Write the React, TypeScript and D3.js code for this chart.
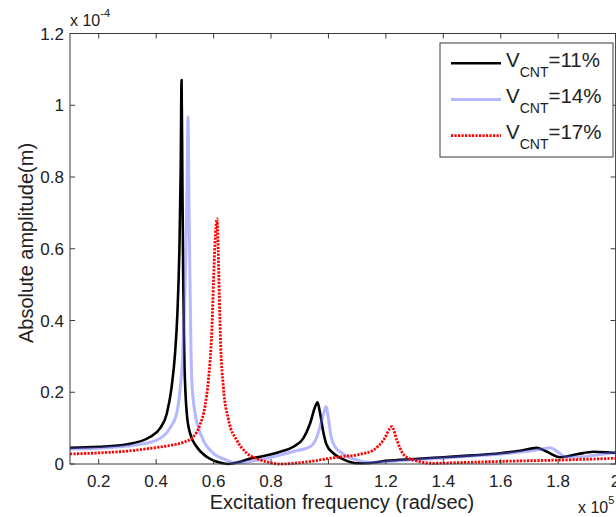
import React from "react";
import * as d3 from "d3";

// Frequency (x 1e5 rad/sec) and absolute amplitude (x 1e-4 m) for each CNT volume fraction
const freq11 = [0.1, 0.2, 0.3, 0.38, 0.414, 0.437, 0.454, 0.466, 0.474, 0.481, 0.4855, 0.4885, 0.4915, 0.4945, 0.498, 0.5066, 0.518, 0.541, 0.576, 0.62, 0.65, 0.692, 0.727, 0.762, 0.832, 0.878, 0.913, 0.936, 0.954, 0.962, 0.971, 0.983, 0.994, 1.017, 1.052, 1.099, 1.145, 1.203, 1.3, 1.4, 1.5, 1.598, 1.668, 1.726, 1.761, 1.807, 1.865, 1.923, 1.98, 2.0];
const amp11 = [0.045, 0.048, 0.055, 0.076, 0.1, 0.14, 0.215, 0.31, 0.42, 0.6, 0.82, 1.07, 0.78, 0.5, 0.3, 0.142, 0.086, 0.048, 0.02, 0.004, 0.0, 0.006, 0.015, 0.02, 0.034, 0.048, 0.072, 0.113, 0.16, 0.172, 0.141, 0.086, 0.053, 0.03, 0.013, 0.002, 0.003, 0.009, 0.014, 0.019, 0.024, 0.03, 0.037, 0.045, 0.034, 0.019, 0.027, 0.034, 0.032, 0.031];

const freq14 = [0.1, 0.2, 0.3, 0.4, 0.448, 0.472, 0.483, 0.4925, 0.498, 0.504, 0.508, 0.511, 0.514, 0.518, 0.524, 0.5355, 0.559, 0.599, 0.646, 0.672, 0.72, 0.762, 0.832, 0.878, 0.936, 0.96, 0.977, 0.985, 0.992, 1.0, 1.008, 1.023, 1.052, 1.099, 1.145, 1.2, 1.3, 1.4, 1.5, 1.6, 1.7, 1.745, 1.772, 1.8, 1.825, 1.87, 1.92, 1.98, 2.0];
const amp14 = [0.042, 0.044, 0.05, 0.066, 0.1, 0.142, 0.206, 0.3, 0.42, 0.605, 0.8, 0.967, 0.75, 0.5, 0.234, 0.142, 0.076, 0.03, 0.011, 0.003, 0.006, 0.012, 0.025, 0.035, 0.048, 0.076, 0.123, 0.146, 0.16, 0.127, 0.081, 0.048, 0.028, 0.011, 0.004, 0.006, 0.012, 0.017, 0.022, 0.028, 0.036, 0.042, 0.045, 0.033, 0.02, 0.019, 0.024, 0.03, 0.032];

const freq17 = [0.1, 0.2, 0.3, 0.4, 0.45, 0.5, 0.53, 0.553, 0.57, 0.582, 0.594, 0.602, 0.608, 0.612, 0.616, 0.62, 0.625, 0.634, 0.652, 0.681, 0.716, 0.75, 0.785, 0.832, 0.925, 1.0, 1.04, 1.11, 1.157, 1.192, 1.221, 1.238, 1.261, 1.296, 1.366, 1.459, 1.633, 1.807, 2.0];
const amp17 = [0.028, 0.031, 0.036, 0.046, 0.052, 0.062, 0.076, 0.11, 0.16, 0.234, 0.373, 0.56, 0.66, 0.683, 0.6, 0.466, 0.327, 0.215, 0.123, 0.066, 0.03, 0.015, 0.006, 0.0, 0.006, 0.015, 0.02, 0.027, 0.039, 0.067, 0.104, 0.067, 0.027, 0.011, 0.002, 0.004, 0.008, 0.011, 0.016];

const xTicks = [0.2, 0.4, 0.6, 0.8, 1, 1.2, 1.4, 1.6, 1.8, 2];
const yTicks = [0, 0.2, 0.4, 0.6, 0.8, 1, 1.2];
const legendLabels = ["=11%", "=14%", "=17%"];

const W = 616;
const H = 517;
const left = 70;
const right = 615.6;
const top = 33.5;
const bottom = 464;
const font = "'Liberation Sans', Arial, Helvetica, sans-serif";

const x = d3.scaleLinear().domain([0.1, 2]).range([left, right]);
const y = d3.scaleLinear().domain([0, 1.2]).range([bottom, top]);

const line = d3
  .line<[number, number]>()
  .x((d) => x(d[0]))
  .y((d) => y(d[1]))
  .curve(d3.curveMonotoneX);

const zip = (a: number[], b: number[]) => a.map((v, i) => [v, b[i]] as [number, number]);

const series = [
  { data: zip(freq11, amp11), stroke: "#000000", width: 2.6, dash: undefined as string | undefined, opacity: 1 },
  { data: zip(freq14, amp14), stroke: "rgb(90,95,255)", width: 3, dash: undefined as string | undefined, opacity: 0.45 },
  { data: zip(freq17, amp17), stroke: "#ff0000", width: 2.8, dash: "2.2,1.3", opacity: 1 },
];

export default function App() {
  const axisColor = "#3a3a3a";
  const textColor = "#222";
  const tick = 5;
  return (
    <svg
      width={W}
      height={H}
      style={{ position: "absolute", left: 0, top: 0, background: "#fff" }}
      fontFamily={font}
    >
      <rect x={0} y={0} width={W} height={H} fill="#fff" />

      {/* curves */}
      {series.map((s, i) => (
        <path
          key={i}
          d={line(s.data) || ""}
          fill="none"
          stroke={s.stroke}
          strokeWidth={s.width}
          strokeOpacity={s.opacity}
          strokeDasharray={s.dash}
          strokeLinejoin="round"
        />
      ))}

      {/* box */}
      <rect x={left} y={top} width={right - left} height={bottom - top} fill="none" stroke={axisColor} strokeWidth={1} />

      {/* x ticks */}
      {xTicks.map((t) => (
        <g key={"x" + t}>
          <line x1={x(t)} x2={x(t)} y1={bottom} y2={bottom - tick} stroke={axisColor} />
          <line x1={x(t)} x2={x(t)} y1={top} y2={top + tick} stroke={axisColor} />
          <text x={x(t)} y={486.5} textAnchor="middle" fontSize={17} fill={textColor}>
            {String(t)}
          </text>
        </g>
      ))}

      {/* y ticks */}
      {yTicks.map((t) => (
        <g key={"y" + t}>
          <line x1={left} x2={left + tick} y1={y(t)} y2={y(t)} stroke={axisColor} />
          <line x1={right} x2={right - tick} y1={y(t)} y2={y(t)} stroke={axisColor} />
          <text x={64} y={y(t) + 6} textAnchor="end" fontSize={17} fill={textColor}>
            {String(t)}
          </text>
        </g>
      ))}

      {/* exponent labels */}
      <text x={70} y={25.5} fontSize={16} fill={textColor}>
        x 10
        <tspan fontSize={11} dy={-9}>-4</tspan>
      </text>
      <text x={578} y={513} fontSize={16} fill={textColor}>
        x 10
        <tspan fontSize={11} dy={-9}>5</tspan>
      </text>

      {/* axis titles */}
      <text x={342} y={508.5} textAnchor="middle" fontSize={20} fill={textColor}>
        Excitation frequency (rad/sec)
      </text>
      <text
        transform={`translate(33,243) rotate(-90)`}
        textAnchor="middle"
        fontSize={20}
        fill={textColor}
      >
        Absolute amplitude(m)
      </text>

      {/* legend */}
      <rect x={440} y={43} width={173} height={114} fill="#fff" stroke={axisColor} strokeWidth={1} />
      {series.map((s, i) => {
        const base = 66.7 + i * 36.2;
        const ly = base - 3.5;
        return (
          <g key={"lg" + i}>
            <line
              x1={451}
              x2={501}
              y1={ly}
              y2={ly}
              stroke={s.stroke}
              strokeWidth={s.width}
              strokeOpacity={s.opacity}
              strokeDasharray={s.dash}
            />
            <text x={506} y={base} fontSize={20.5} fill={textColor}>
              V
              <tspan fontSize={14} dy={10}>CNT</tspan>
              <tspan dy={-10}>{legendLabels[i]}</tspan>
            </text>
          </g>
        );
      })}
    </svg>
  );
}
